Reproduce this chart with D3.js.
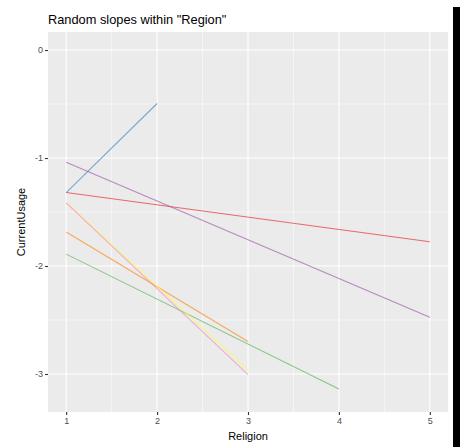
<!DOCTYPE html>
<html>
<head>
<meta charset="utf-8">
<script src="https://cdn.jsdelivr.net/npm/d3@7"></script>
<style>
  html, body { margin: 0; padding: 0; background: #fff; }
  svg { display: block; }
  text { font-family: "Liberation Sans", Arial, sans-serif; }
</style>
</head>
<body>
<svg id="chart" width="461" height="447"></svg>
<script>
// ---- data ----
const seriesNames = ["A", "B", "C", "D", "E", "F", "G"];
const seriesColors = ["#E41A1C", "#377EB8", "#4DAF4A", "#984EA3", "#FF7F00", "#FFFF33", "#F781BF"];
const seriesX = [
  [1, 5],
  [1, 2],
  [1, 4],
  [1, 5],
  [1, 3],
  [1, 3],
  [1, 3]
];
const seriesY = [
  [-1.32, -1.775],
  [-1.32, -0.495],
  [-1.89, -3.14],
  [-1.04, -2.475],
  [-1.685, -2.70],
  [-1.41, -2.965],
  [-1.415, -3.005]
];
const xTicks = [1, 2, 3, 4, 5];
const xMinor = [1.5, 2.5, 3.5, 4.5];
const yTicks = [0, -1, -2, -3];
const yMinor = [-0.5, -1.5, -2.5];
const xLimits = [0.8, 5.2];
const yLimits = [-3.352, 0.167];
const titleText = 'Random slopes within "Region"';
const xTitle = "Religion";
const yTitle = "CurrentUsage";

// ---- layout ----
const svg = d3.select("#chart");
const panel = { left: 48, top: 32, right: 448, bottom: 412 };

const x = d3.scaleLinear().domain(xLimits).range([panel.left, panel.right]);
const y = d3.scaleLinear().domain(yLimits).range([panel.bottom, panel.top]);

svg.append("rect").attr("x", 0).attr("y", 0).attr("width", 461).attr("height", 447).attr("fill", "#fff");

// panel background
svg.append("rect")
  .attr("x", panel.left).attr("y", panel.top)
  .attr("width", panel.right - panel.left).attr("height", panel.bottom - panel.top)
  .attr("fill", "#EBEBEB");

const grid = svg.append("g");
grid.selectAll("line.xminor").data(xMinor).join("line").attr("class", "xminor")
  .attr("x1", d => x(d)).attr("x2", d => x(d))
  .attr("y1", panel.top).attr("y2", panel.bottom)
  .attr("stroke", "#fff").attr("stroke-width", 0.55);
grid.selectAll("line.yminor").data(yMinor).join("line").attr("class", "yminor")
  .attr("y1", d => y(d)).attr("y2", d => y(d))
  .attr("x1", panel.left).attr("x2", panel.right)
  .attr("stroke", "#fff").attr("stroke-width", 0.55);
grid.selectAll("line.xmajor").data(xTicks).join("line").attr("class", "xmajor")
  .attr("x1", d => x(d)).attr("x2", d => x(d))
  .attr("y1", panel.top).attr("y2", panel.bottom)
  .attr("stroke", "#fff").attr("stroke-width", 1.1);
grid.selectAll("line.ymajor").data(yTicks).join("line").attr("class", "ymajor")
  .attr("y1", d => y(d)).attr("y2", d => y(d))
  .attr("x1", panel.left).attr("x2", panel.right)
  .attr("stroke", "#fff").attr("stroke-width", 1.1);

// lines
const lineGen = d3.line().x(d => x(d[0])).y(d => y(d[1]));
const seriesData = seriesNames.map((n, i) => ({
  name: n, color: seriesColors[i],
  pts: seriesX[i].map((xv, j) => [xv, seriesY[i][j]])
}));
svg.append("g").selectAll("path.series").data(seriesData).join("path")
  .attr("class", "series")
  .attr("d", d => lineGen(d.pts))
  .attr("fill", "none")
  .attr("stroke", d => d.color)
  .attr("stroke-opacity", 0.62)
  .attr("stroke-width", 1.1);

// axes
const xAxis = d3.axisBottom(x).tickValues(xTicks).tickSize(3).tickPadding(3).tickFormat(d3.format("d"));
const yAxis = d3.axisLeft(y).tickValues(yTicks).tickSize(3).tickPadding(2).tickFormat(d => String(d));

const gx = svg.append("g").attr("transform", `translate(0,${panel.bottom})`).call(xAxis);
const gy = svg.append("g").attr("transform", `translate(${panel.left},0)`).call(yAxis);
[gx, gy].forEach(g => {
  g.select(".domain").remove();
  g.selectAll(".tick line").attr("stroke", "#333333").attr("stroke-width", 1.1);
  g.selectAll(".tick text").attr("fill", "#4D4D4D").attr("font-size", 9)
    .attr("font-family", '"Liberation Sans", Arial, sans-serif');
});

// titles
svg.append("text").attr("x", panel.left).attr("y", 24)
  .attr("font-size", 12.8).attr("fill", "#000").text(titleText);
svg.append("text").attr("x", (panel.left + panel.right) / 2).attr("y", 440)
  .attr("text-anchor", "middle").attr("font-size", 11).attr("fill", "#000").text(xTitle);
svg.append("text")
  .attr("transform", `translate(25,${(panel.top + panel.bottom) / 2}) rotate(-90)`)
  .attr("text-anchor", "middle").attr("font-size", 11).attr("fill", "#000").text(yTitle);

// black edge strip (part of the picture)
svg.append("rect").attr("x", 453).attr("y", 7).attr("width", 7).attr("height", 440).attr("fill", "#000");
</script>
</body>
</html>
